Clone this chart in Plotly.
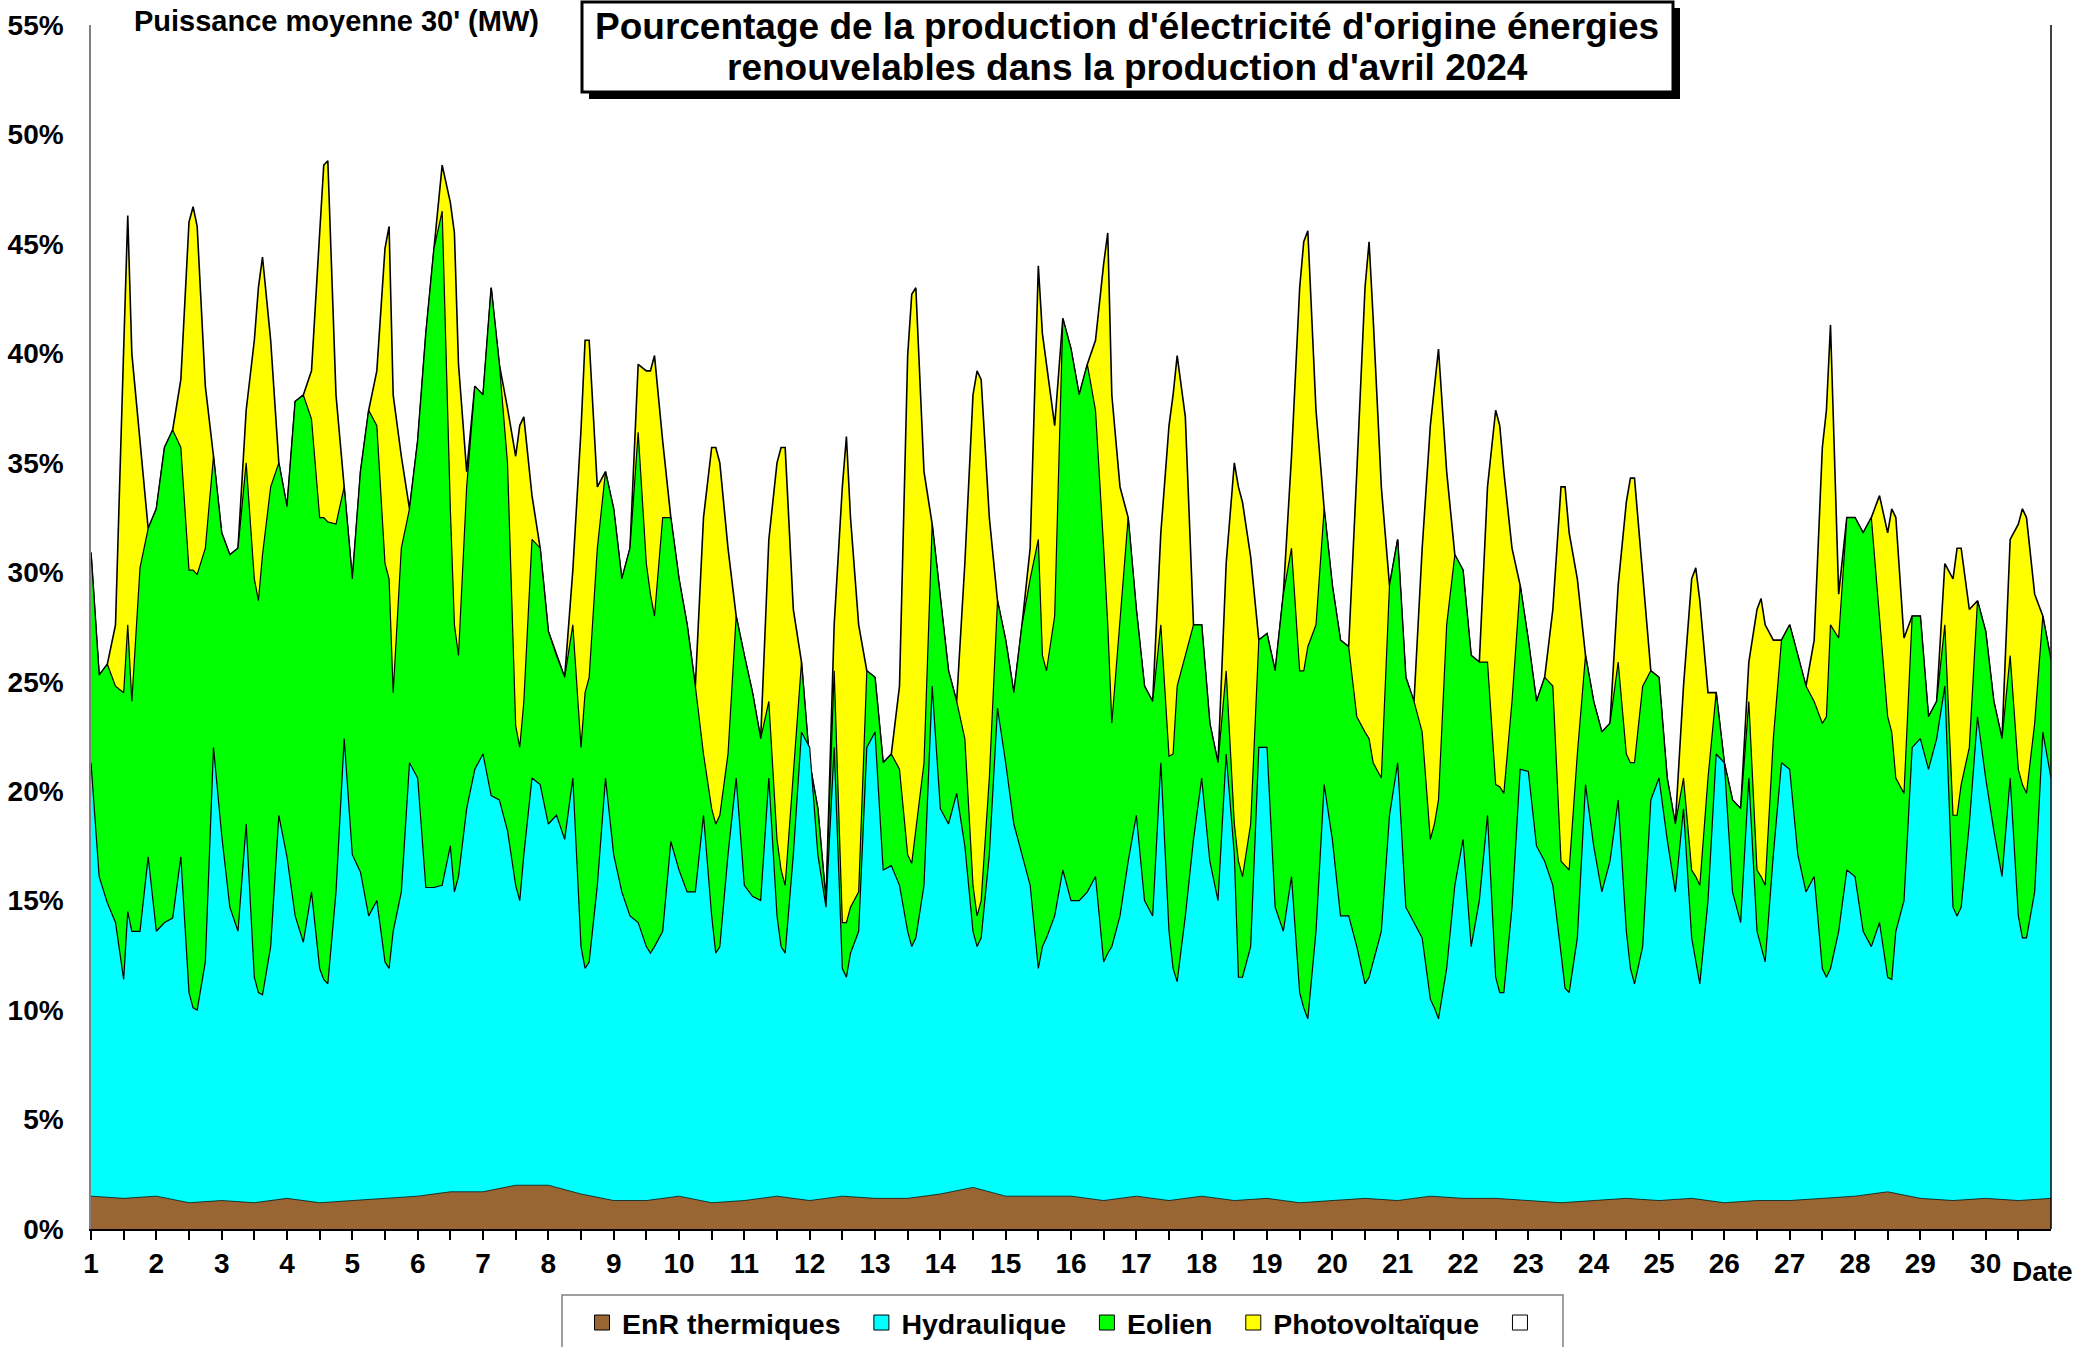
import plotly.graph_objects as go

# ---------------- data ----------------
# Levels are cumulative percentages of the total production.
HOURS = [0, 3, 6, 9, 12, 15, 18, 21]
PEAK_HOUR = 13.5
DAYS = list(range(1, 31))
DAY_LABELS = [str(d) for d in DAYS]
Y_TICKS = list(range(0, 56, 5))

# top of "Photovoltaïque" (= total renewable share), read every 3 hours
total_top = [
    [30.9, 25.3, 25.8, 27.6, 40.2, 40.0, 36.0, 32.0],
    [32.9, 35.7, 36.5, 38.8, 46.0, 45.8, 38.5, 35.3],
    [31.8, 30.8, 31.1, 37.4, 40.6, 44.4, 40.6, 35.0],
    [33.0, 37.8, 38.1, 39.2, 45.5, 48.8, 38.1, 33.9],
    [29.7, 34.6, 37.4, 39.2, 44.8, 38.1, 35.3, 32.9],
    [36.0, 40.9, 44.8, 48.6, 46.9, 39.5, 34.6, 38.5],
    [38.1, 43.0, 39.5, 37.5, 35.3, 37.1, 33.5, 31.1],
    [27.3, 26.2, 25.2, 30.1, 36.5, 40.6, 33.9, 34.6],
    [32.9, 29.7, 31.1, 39.5, 39.2, 39.9, 36.0, 32.5],
    [29.7, 27.6, 24.8, 32.5, 35.7, 35.0, 31.1, 28.0],
    [26.2, 24.5, 22.4, 31.5, 35.0, 35.7, 28.3, 25.9],
    [21.3, 19.2, 15.0, 27.6, 33.9, 32.5, 27.6, 25.5],
    [25.2, 21.3, 21.7, 24.8, 39.9, 43.0, 34.6, 32.2],
    [28.7, 25.5, 24.1, 30.4, 38.1, 38.8, 32.5, 28.7],
    [26.9, 24.5, 27.6, 31.1, 44.0, 39.5, 36.7, 41.6],
    [40.2, 38.1, 39.5, 40.6, 44.1, 38.1, 33.9, 32.5],
    [28.3, 24.8, 24.1, 31.8, 36.7, 39.9, 37.1, 27.6],
    [27.6, 23.1, 21.3, 30.4, 35.0, 33.2, 30.7, 26.9],
    [27.2, 25.5, 29.0, 35.3, 43.0, 45.6, 37.4, 32.9],
    [29.4, 26.9, 26.6, 34.6, 43.0, 41.6, 33.9, 29.4],
    [31.5, 25.2, 24.1, 31.1, 36.7, 40.2, 34.6, 30.8],
    [30.1, 26.2, 25.9, 33.9, 37.4, 34.6, 31.1, 29.4],
    [26.9, 24.1, 25.2, 28.3, 33.9, 31.8, 29.7, 26.2],
    [24.1, 22.7, 23.1, 29.4, 33.2, 34.3, 29.7, 25.5],
    [25.2, 20.6, 18.5, 24.8, 29.7, 28.7, 24.5, 24.5],
    [21.3, 19.6, 19.2, 25.9, 28.3, 27.6, 26.9, 26.9],
    [27.6, 26.2, 24.8, 26.9, 35.7, 41.3, 29.0, 32.5],
    [32.5, 31.8, 32.5, 33.5, 31.8, 32.5, 27.0, 28.0],
    [28.0, 23.4, 24.1, 30.4, 29.7, 31.1, 28.3, 28.7],
    [27.3, 24.1, 22.4, 31.5, 32.2, 32.5, 29.0, 28.0],
]
total_1330 = [46.3, 46.7, 43.0, 48.6, 45.8, 45.5, 36.7, 40.6, 39.2, 35.7,
              35.7, 36.2, 42.7, 39.2, 40.9, 45.5, 38.1, 33.9, 45.1, 45.1,
              38.5, 36.7, 33.9, 34.3, 30.2, 28.8, 37.4, 32.9, 31.1, 32.9]
total_end = 26.0

# top of "Eolien"
eolien_top = [
    [30.9, 25.3, 25.8, 24.8, 24.5, 24.1, 30.2, 32.0],
    [32.9, 35.7, 36.5, 35.7, 30.1, 29.9, 31.1, 35.3],
    [31.8, 30.8, 31.1, 35.0, 29.7, 30.8, 33.9, 35.0],
    [33.0, 37.8, 38.1, 37.0, 32.5, 32.3, 32.2, 33.9],
    [29.7, 34.6, 37.4, 36.7, 30.4, 24.5, 31.1, 32.9],
    [36.0, 40.9, 44.8, 46.5, 32.9, 26.2, 33.9, 38.5],
    [38.1, 43.0, 39.5, 35.0, 23.0, 24.1, 31.5, 31.1],
    [27.3, 26.2, 25.2, 27.6, 22.0, 25.2, 31.1, 34.6],
    [32.9, 29.7, 31.1, 36.4, 30.4, 28.0, 32.5, 32.5],
    [29.7, 27.6, 24.8, 21.7, 19.2, 18.9, 21.7, 28.0],
    [26.2, 24.5, 22.4, 24.1, 17.8, 15.7, 20.6, 25.9],
    [21.3, 19.2, 15.0, 25.5, 14.0, 14.7, 15.4, 25.5],
    [25.2, 21.3, 21.7, 21.0, 17.1, 18.2, 21.3, 32.2],
    [28.7, 25.5, 24.1, 22.4, 15.7, 15.0, 20.6, 28.7],
    [26.9, 24.5, 27.6, 29.7, 31.5, 25.5, 28.0, 41.6],
    [40.2, 38.1, 39.5, 37.4, 31.1, 23.1, 27.6, 32.5],
    [28.3, 24.8, 24.1, 27.6, 21.6, 24.8, 26.2, 27.6],
    [27.6, 23.1, 21.3, 25.5, 18.5, 16.1, 18.5, 26.9],
    [27.2, 25.5, 29.0, 31.1, 25.5, 26.6, 27.6, 32.9],
    [29.4, 26.9, 26.6, 23.4, 22.7, 21.3, 20.6, 29.4],
    [31.5, 25.2, 24.1, 22.7, 17.8, 19.6, 27.6, 30.8],
    [30.1, 26.2, 25.9, 25.9, 20.3, 19.9, 24.1, 29.4],
    [26.9, 24.1, 25.2, 24.8, 16.8, 16.4, 21.7, 26.2],
    [24.1, 22.7, 23.1, 25.9, 21.7, 21.3, 24.8, 25.5],
    [25.2, 20.6, 18.5, 20.6, 16.4, 15.7, 20.6, 24.5],
    [21.3, 19.6, 19.2, 24.1, 16.4, 15.7, 22.4, 26.9],
    [27.6, 26.2, 24.8, 24.1, 23.1, 27.6, 27.0, 32.5],
    [32.5, 31.8, 32.5, 28.0, 23.4, 20.6, 19.9, 28.0],
    [28.0, 23.4, 24.1, 27.6, 18.9, 20.3, 22.0, 28.7],
    [27.3, 24.1, 22.4, 26.2, 21.0, 19.9, 23.1, 28.0],
]
eolien_1330 = [27.6, 30.1, 28.7, 32.5, 29.7, 27.6, 22.0, 24.5, 29.0, 18.5,
               16.4, 14.0, 16.7, 14.3, 26.2, 27.6, 21.7, 16.8, 25.5, 22.4,
               18.5, 20.2, 16.6, 21.3, 16.1, 16.1, 23.4, 22.7, 18.9, 20.3]
eolien_end = 26.0

# top of "Hydraulique"
hydro_top = [
    [21.3, 16.1, 14.9, 14.0, 11.4, 13.6, 13.6, 17.0],
    [13.6, 14.0, 14.2, 17.0, 10.8, 10.0, 12.2, 22.0],
    [18.0, 14.7, 13.6, 18.5, 11.5, 10.7, 12.9, 18.9],
    [17.0, 14.3, 13.1, 15.4, 11.9, 11.2, 15.4, 22.4],
    [17.1, 16.3, 14.3, 15.0, 12.2, 13.6, 15.4, 21.3],
    [20.6, 15.6, 15.6, 15.7, 17.5, 16.1, 19.2, 21.0],
    [21.7, 19.8, 19.6, 18.2, 15.7, 17.1, 20.6, 20.3],
    [18.5, 18.9, 17.8, 20.6, 12.9, 12.2, 15.7, 20.6],
    [17.1, 15.4, 14.3, 14.0, 12.9, 12.9, 13.6, 17.7],
    [16.4, 15.4, 15.4, 18.9, 14.3, 12.9, 17.1, 20.6],
    [15.7, 15.2, 15.0, 20.6, 14.3, 12.6, 17.1, 22.7],
    [22.0, 17.1, 14.7, 22.0, 11.9, 12.6, 13.6, 22.0],
    [22.7, 16.4, 16.6, 15.7, 13.6, 13.3, 15.7, 24.8],
    [19.2, 18.5, 19.9, 17.5, 13.6, 13.3, 17.1, 23.8],
    [21.3, 18.5, 17.1, 15.7, 11.9, 13.3, 14.3, 16.4],
    [15.0, 15.0, 15.4, 16.1, 12.2, 12.9, 14.3, 16.8],
    [18.9, 15.0, 14.3, 21.3, 13.6, 11.3, 14.3, 17.8],
    [20.6, 16.8, 15.0, 21.7, 17.1, 11.5, 12.9, 22.0],
    [22.0, 14.7, 13.6, 16.1, 10.8, 9.6, 13.6, 20.3],
    [17.8, 14.3, 14.3, 12.9, 11.2, 12.2, 13.6, 18.9],
    [21.3, 14.7, 14.0, 13.3, 10.5, 9.6, 11.9, 15.7],
    [17.8, 12.9, 15.0, 18.9, 11.5, 10.8, 14.7, 21.0],
    [20.9, 17.5, 16.8, 15.7, 12.6, 10.8, 13.3, 20.3],
    [17.5, 15.4, 16.8, 19.6, 13.6, 11.2, 12.9, 19.6],
    [20.6, 17.8, 15.4, 19.2, 13.3, 11.2, 15.0, 21.7],
    [21.3, 15.4, 14.0, 20.6, 13.6, 12.2, 17.1, 21.3],
    [21.0, 17.1, 15.4, 16.1, 11.9, 11.9, 13.6, 16.4],
    [16.1, 13.6, 12.9, 14.0, 11.5, 13.6, 15.0, 22.0],
    [22.4, 21.0, 22.4, 24.8, 14.7, 14.7, 18.5, 23.4],
    [20.6, 18.2, 16.1, 20.6, 14.3, 13.3, 15.4, 22.7],
]
hydro_1330 = [14.5, 10.1, 10.8, 11.4, 11.9, 15.4, 15.0, 11.9, 12.6, 12.6,
              12.9, 11.5, 12.9, 12.9, 12.9, 12.6, 11.9, 11.5, 10.1, 11.5,
              10.1, 10.8, 11.0, 11.9, 12.2, 12.9, 11.5, 11.4, 14.3, 13.3]
hydro_end = 20.6

# top of "EnR thermiques", read at 0h and 12h
THERMAL_HOURS = [0, 12]
thermal_top = [
    [1.5, 1.4], [1.5, 1.2], [1.3, 1.2], [1.4, 1.2], [1.3, 1.4],
    [1.5, 1.7], [1.7, 2.0], [2.0, 1.6], [1.3, 1.3], [1.5, 1.2],
    [1.3, 1.5], [1.3, 1.5], [1.4, 1.4], [1.6, 1.9], [1.5, 1.5],
    [1.5, 1.3], [1.5, 1.3], [1.5, 1.3], [1.4, 1.2], [1.3, 1.4],
    [1.3, 1.5], [1.4, 1.4], [1.3, 1.2], [1.3, 1.4], [1.3, 1.4],
    [1.2, 1.3], [1.3, 1.4], [1.5, 1.7], [1.4, 1.3], [1.4, 1.3],
]
thermal_end = 1.4

SERIES_NAMES = ["EnR thermiques", "Hydraulique", "Eolien", "Photovoltaïque", ""]
SERIES_COLORS = ["#996633", "#00FFFF", "#00FF00", "#FFFF00", "#FFFFFF"]


def flatten(per_day, hours, end_value, extra=None):
    xs, ys = [], []
    for i, (d, vals) in enumerate(zip(DAYS, per_day)):
        pts = [(h, v) for h, v in zip(hours, vals)]
        if extra is not None:
            pts.append((PEAK_HOUR, extra[i]))
        pts.sort()
        for h, v in pts:
            xs.append(d + h / 24.0)
            ys.append(v)
    xs.append(DAYS[-1] + 1)
    ys.append(end_value)
    return xs, ys


# ---------------- geometry (pixel coordinates of the page) ----------------
W, H = 2100, 1347
PL, PR, PT, PB = 91, 2051, 25, 1229   # plot area


def px_x(p):
    return (p - PL) / (PR - PL)


def px_y(p):
    return (PB - p) / (PB - PT)


FONT = "Liberation Sans, Arial, sans-serif"

fig = go.Figure()

# stacked areas, drawn from the highest level down so each covers the one below
layers = [
    (total_top, HOURS, total_end, total_1330, SERIES_COLORS[3], 1.6),
    (eolien_top, HOURS, eolien_end, eolien_1330, SERIES_COLORS[2], 1.2),
    (hydro_top, HOURS, hydro_end, hydro_1330, SERIES_COLORS[1], 1.2),
    (thermal_top, THERMAL_HOURS, thermal_end, None, SERIES_COLORS[0], 0.7),
]
for data, hrs, end, extra, col, lw in layers:
    xs, ys = flatten(data, hrs, end, extra)
    fig.add_trace(go.Scatter(
        x=xs, y=ys, mode="lines", fill="tozeroy", fillcolor=col,
        line=dict(color="black", width=lw), showlegend=False, hoverinfo="skip",
    ))

# legend entries
for name, col in zip(SERIES_NAMES, SERIES_COLORS):
    fig.add_trace(go.Scatter(
        x=[None], y=[None], mode="markers",
        name=(name + "\u00a0\u00a0") if name else "\u00a0",
        marker=dict(symbol="square", size=15, color=col, line=dict(color="black", width=1)),
        showlegend=True,
    ))

tickvals = [d + h for d in DAYS for h in (0, 0.5)]
ticktext = [lab if h == 0 else "" for lab in DAY_LABELS for h in (0, 0.5)]

fig.update_layout(
    width=W, height=H,
    margin=dict(l=PL, r=W - PR, t=PT, b=H - PB, autoexpand=False),
    plot_bgcolor="white", paper_bgcolor="white",
    font=dict(family=FONT, color="black", size=28, weight="bold"),
    showlegend=True,
    legend=dict(
        orientation="h", x=px_x(582), xanchor="left", y=px_y(1323), yanchor="middle",
        font=dict(family=FONT, size=28.5, color="black", weight="bold"),
        bgcolor="rgba(0,0,0,0)", borderwidth=0, itemsizing="trace",
    ),
    xaxis=dict(
        range=[1, 31], tickmode="array", tickvals=tickvals, ticktext=ticktext,
        ticks="outside", ticklen=9, tickwidth=1.5, tickcolor="black",
        showline=True, linecolor="black", linewidth=1.5,
        showgrid=False, zeroline=False, ticklabelstandoff=0,
        tickfont=dict(family=FONT, size=28, color="black", weight="bold"),
    ),
    yaxis=dict(
        range=[0, 55], tickmode="array", tickvals=Y_TICKS,
        ticktext=[f"{v}%" for v in Y_TICKS], ticks="",
        showline=True, linecolor="#808080", linewidth=1.5,
        showgrid=False, zeroline=False, ticklabelstandoff=20,
        tickfont=dict(family=FONT, size=28, color="black", weight="bold"),
    ),
)

shapes = [
    # right axis line
    dict(type="line", xref="paper", yref="paper", x0=1, x1=1, y0=0, y1=1,
         line=dict(color="black", width=1.5), layer="above"),
    # title box shadow + box
    dict(type="rect", xref="paper", yref="paper",
         x0=px_x(589), x1=px_x(1680), y0=px_y(8), y1=px_y(99),
         fillcolor="black", line=dict(color="black", width=0), layer="above"),
    dict(type="rect", xref="paper", yref="paper",
         x0=px_x(582), x1=px_x(1673), y0=px_y(2), y1=px_y(92),
         fillcolor="white", line=dict(color="black", width=3), layer="above"),
    # legend frame
    dict(type="rect", xref="paper", yref="paper",
         x0=px_x(562), x1=px_x(1563), y0=px_y(1295), y1=px_y(1360),
         fillcolor="rgba(0,0,0,0)", line=dict(color="#808080", width=1.5), layer="above"),
]
fig.update_layout(shapes=shapes)

annotations = [
    dict(text="Pourcentage de la production d'électricité d'origine énergies",
         x=px_x(1127), y=px_y(27), xanchor="center", yanchor="middle",
         font=dict(family=FONT, size=37, color="black", weight="bold")),
    dict(text="renouvelables dans la production d'avril 2024",
         x=px_x(1127), y=px_y(68), xanchor="center", yanchor="middle",
         font=dict(family=FONT, size=37, color="black", weight="bold")),
    dict(text="Puissance moyenne 30' (MW)",
         x=px_x(132), y=px_y(21), xanchor="left", yanchor="middle",
         font=dict(family=FONT, size=29, color="black", weight="bold")),
    dict(text="Date",
         x=px_x(2042), y=px_y(1271), xanchor="center", yanchor="middle",
         font=dict(family=FONT, size=28, color="black", weight="bold")),
]
for a in annotations:
    a.update(xref="paper", yref="paper", showarrow=False)
fig.update_layout(annotations=annotations)

# let the figure fill the page exactly (no default body margin), no mode bar
fig.write_html(
    "out.html",
    config={"displayModeBar": False},
    post_script="document.body.style.margin='0px';document.body.style.overflow='hidden';",
)
